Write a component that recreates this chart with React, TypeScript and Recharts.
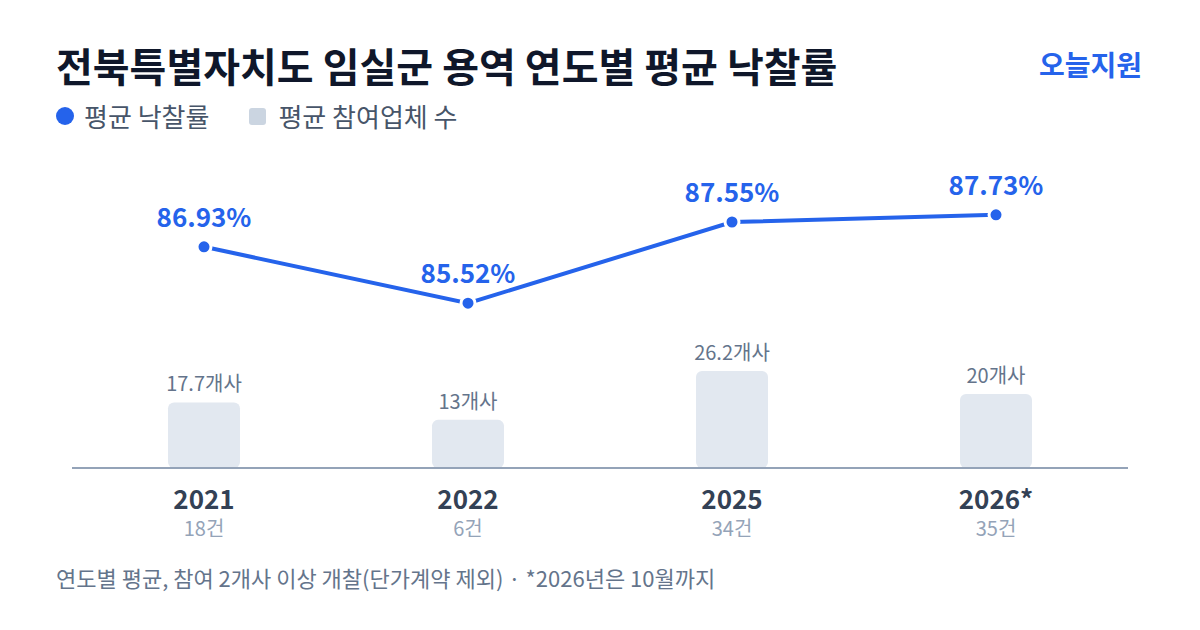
import React from 'react';
import { ComposedChart, Bar, Line, XAxis, YAxis, LabelList } from 'recharts';

// 연도별 평균 낙찰률 / 평균 참여업체 수 / 개찰 건수
const years = ['2021', '2022', '2025', '2026*'];
const bidRates = [86.93, 85.52, 87.55, 87.73];
const bidders = [17.7, 13, 26.2, 20];
const caseCounts = [18, 6, 34, 35];

const BLUE = '#2563eb';
const FONT = '"Noto Sans CJK KR", "Noto Sans", sans-serif';

const data = years.map((year, i) => ({
  year,
  rate: bidRates[i],
  bidders: bidders[i],
  cases: caseCounts[i],
}));

const YearTick = (props: any) => {
  const { x, y, payload, index } = props;
  return (
    <g transform={`translate(${x},${y})`}>
      <text x={0} y={40.5} textAnchor="middle" fontSize={26} fontWeight={700} fill="#334155" fontFamily={FONT}>
        {payload.value}
      </text>
      <text x={0} y={68} textAnchor="middle" fontSize={20} fill="#94a3b8" fontFamily={FONT}>
        {`${caseCounts[index]}건`}
      </text>
    </g>
  );
};

const RateDot = (props: any) => {
  const { cx, cy } = props;
  if (cx == null || cy == null) return null;
  return <circle cx={cx} cy={cy} r={7} fill={BLUE} stroke="#fff" strokeWidth={3} />;
};

const App: React.FC = () => {
  return (
    <div style={{ position: 'absolute', left: 0, top: 0, width: 1200, height: 630, background: '#fff', fontFamily: FONT }}>
      <div style={{ position: 'absolute', left: 56, top: 41, fontSize: 40, fontWeight: 700, color: '#0f172a', lineHeight: '48px', whiteSpace: 'nowrap' }}>
        전북특별자치도 임실군 용역 연도별 평균 낙찰률
      </div>
      <div style={{ position: 'absolute', right: 58, top: 46, fontSize: 28, fontWeight: 700, color: BLUE, lineHeight: '36px' }}>
        오늘지원
      </div>

      {/* 범례 */}
      <div style={{ position: 'absolute', left: 56, top: 100, display: 'flex', alignItems: 'center', fontSize: 26, color: '#475569', lineHeight: '32px', whiteSpace: 'nowrap' }}>
        <span style={{ width: 18, height: 18, borderRadius: '50%', background: BLUE, display: 'inline-block', marginRight: 10 }} />
        <span>평균 낙찰률</span>
        <span style={{ width: 17, height: 17, borderRadius: 3, background: '#cbd5e1', display: 'inline-block', marginLeft: 40, marginRight: 12 }} />
        <span>평균 참여업체 수</span>
      </div>

      <div style={{ position: 'absolute', left: 0, top: 0 }}>
        <ComposedChart width={1200} height={560} data={data} margin={{ top: 140, right: 72, bottom: 12, left: 72 }}>
          <XAxis
            dataKey="year"
            height={80}
            tickLine={false}
            tickSize={0}
            tickMargin={0}
            axisLine={{ stroke: '#94a3b8', strokeWidth: 2 }}
            tick={<YearTick />}
            interval={0}
          />
          <YAxis yAxisId="bar" hide domain={[0, 88.6]} />
          <YAxis yAxisId="rate" hide orientation="right" domain={[81.4, 89.6]} />
          <Bar yAxisId="bar" dataKey="bidders" barSize={72} fill="#e2e8f0" radius={[6, 6, 6, 6]} isAnimationActive={false}>
            <LabelList
              dataKey="bidders"
              position="top"
              offset={11}
              formatter={(v: any) => `${v}개사`}
              style={{ fontSize: 20, fill: '#64748b', fontFamily: FONT }}
            />
          </Bar>
          <Line
            yAxisId="rate"
            dataKey="rate"
            stroke={BLUE}
            strokeWidth={4}
            dot={<RateDot />}
            activeDot={false}
            isAnimationActive={false}
          >
            <LabelList
              dataKey="rate"
              position="top"
              offset={20}
              formatter={(v: any) => `${Number(v).toFixed(2)}%`}
              style={{ fontSize: 26, fontWeight: 700, fill: BLUE, fontFamily: FONT }}
            />
          </Line>
        </ComposedChart>
      </div>

      <div style={{ position: 'absolute', left: 56, top: 564, fontSize: 22, color: '#64748b', lineHeight: '26px', whiteSpace: 'nowrap' }}>
        연도별 평균, 참여 2개사 이상 개찰(단가계약 제외) · *2026년은 10월까지
      </div>
    </div>
  );
};

export default App;
